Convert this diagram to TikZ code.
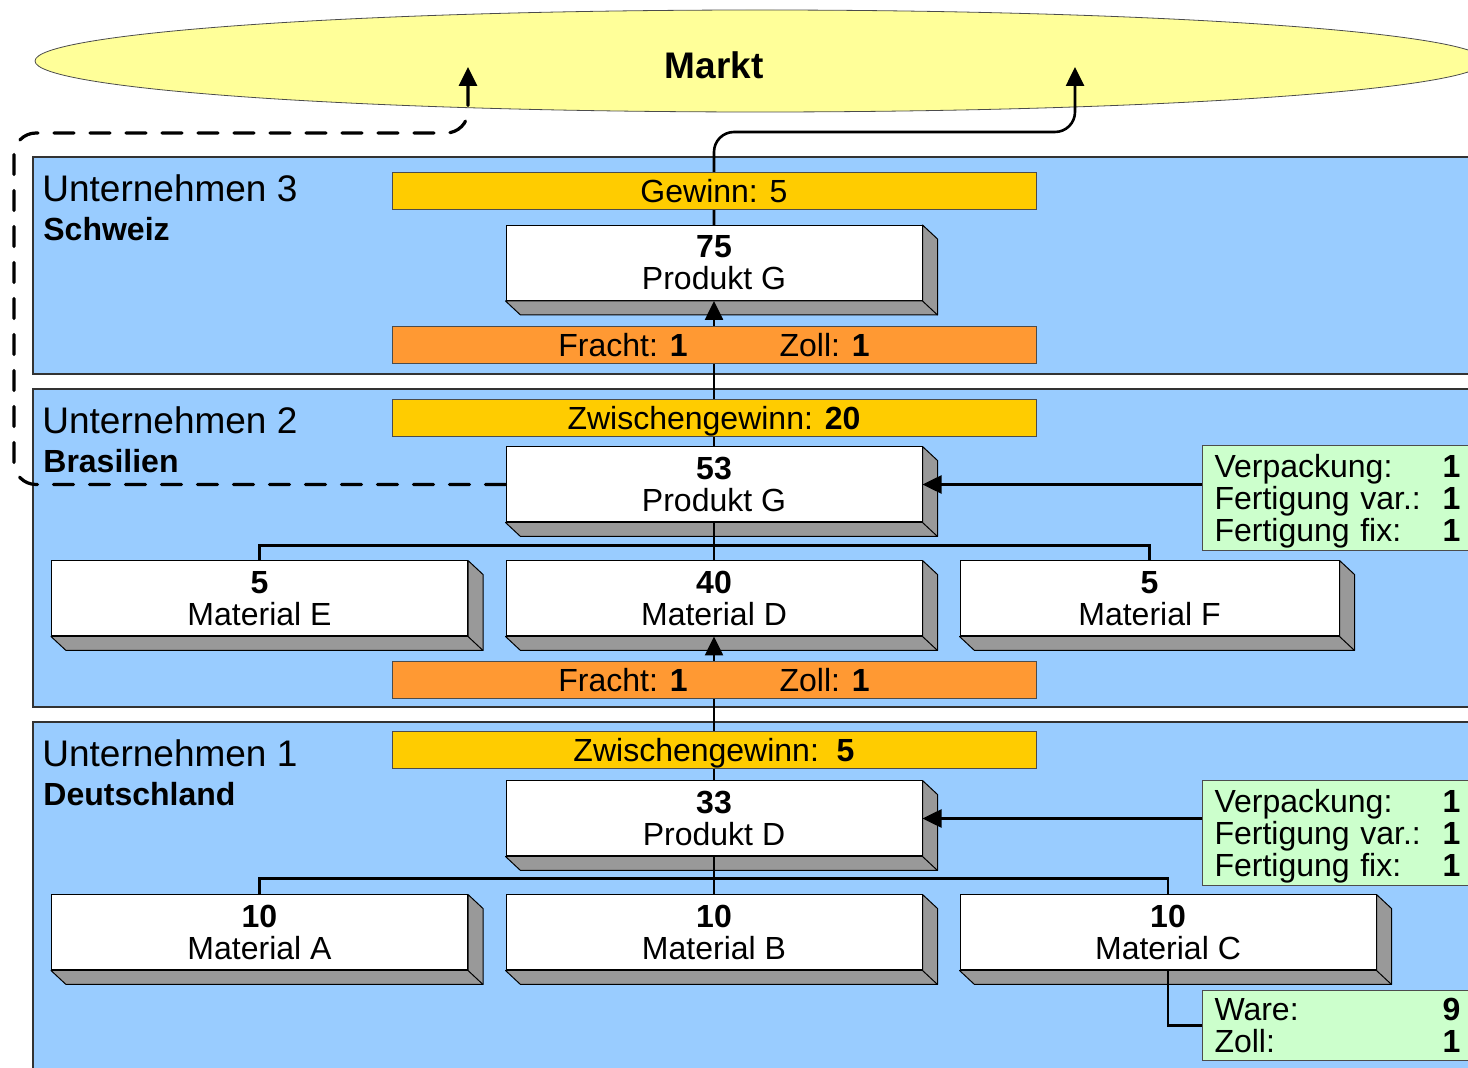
\documentclass[tikz,border=0pt]{standalone}
\usepackage{fontspec}
\setmainfont{Liberation Sans}
\usetikzlibrary{arrows.meta}
\definecolor{panelblue}{HTML}{99CCFF}
\definecolor{marktyellow}{HTML}{FFFF99}
\definecolor{gainyellow}{HTML}{FFCC00}
\definecolor{feeorange}{HTML}{FF9933}
\definecolor{costgreen}{HTML}{CCFFCC}
\definecolor{sidegray}{HTML}{999999}
\begin{document}
\begin{tikzpicture}[x=0.5pt,y=-0.5pt]
			\tikzstyle{panel}= [fill=panelblue,draw=black!80,line width=0.6pt]
			\tikzstyle{ware_box}= [draw,rectangle,fill=white,line width=0.5pt,minimum width=208pt,minimum height=37.5pt,inner sep=0pt,align=center,font=\fontsize{16}{16}\selectfont]
			\tikzstyle{side_face}= [fill=sidegray,draw=black,line width=0.5pt,line join=round]
			\tikzstyle{gain_bar}= [draw=black!70,rectangle,fill=gainyellow,line width=0.5pt,minimum width=322pt,minimum height=18.5pt,inner sep=0pt,text height=11.5pt,text depth=0pt,font=\fontsize{16}{16}\selectfont]
			\tikzstyle{fee_bar}= [gain_bar,fill=feeorange]
			\tikzstyle{cost_box}= [draw=black!70,rectangle,fill=costgreen,line width=0.5pt,anchor=west,text width=123pt,inner xsep=6pt,inner ysep=0pt,align=left,font=\fontsize{16}{16}\selectfont]
			\tikzstyle{firm_label}= [anchor=base west,inner sep=0pt,font=\fontsize{18.5}{18.5}\selectfont]
			\tikzstyle{land_label}= [anchor=base west,inner sep=0pt,font=\bfseries\fontsize{16}{16}\selectfont]
			\tikzstyle{link}= [line width=1.3pt]
			\tikzstyle{link_arrow}= [link,-{Triangle[length=9.5pt,width=9pt]}]
			\tikzstyle{dash_link}= [line width=1.6pt,dash pattern=on 10pt off 8pt,line cap=round,rounded corners=11pt,-{Triangle[length=9.5pt,width=9pt]}]
			\useasboundingbox (0,0) rectangle (1468,1068);
			\clip (0,0) rectangle (1468,1068);
			% market
			\filldraw [fill=marktyellow,draw=black!70,line width=0.4pt] (760,61) ellipse [x radius=362.5pt,y radius=25.5pt];
			\node [font=\bfseries\fontsize{18.5}{18.5}\selectfont] (markt) at (714,65) {Markt};
			\coordinate (mk1) at (468,67);
			\coordinate (mk2) at (1075,67);
			\coordinate (dc) at (14,133);
			% firms
			\draw [panel] (33,157) rectangle (1490,374);
			\draw [panel] (33,389) rectangle (1490,707);
			\draw [panel] (33,722) rectangle (1490,1090);
			\node [firm_label] (u3) at (42,202) {Unternehmen 3};
			\node [land_label] (c3) at (43,241) {Schweiz};
			\node [firm_label] (u2) at (42,434) {Unternehmen 2};
			\node [land_label] (c2) at (43,473) {Brasilien};
			\node [firm_label] (u1) at (42,767) {Unternehmen 1};
			\node [land_label] (c1) at (43,806) {Deutschland};
			% goods
			\node [ware_box] (pg3) at (714,263) {\textbf{75}\\Produkt G};
			\node [ware_box] (pg2) at (714,484.5) {\textbf{53}\\Produkt G};
			\node [ware_box] (me) at (259.5,598.5) {\textbf{5}\\Material E};
			\node [ware_box] (md) at (714,598.5) {\textbf{40}\\Material D};
			\node [ware_box,minimum width=189.5pt] (mf) at (1149.5,598.5) {\textbf{5}\\Material F};
			\node [ware_box] (pd) at (714,818.5) {\textbf{33}\\Produkt D};
			\node [ware_box] (ma) at (259.5,932.5) {\textbf{10}\\Material A};
			\node [ware_box] (mb) at (714,932.5) {\textbf{10}\\Material B};
			\node [ware_box] (mc) at (1168,932.5) {\textbf{10}\\Material C};
			\foreach \b in {pg3,pg2,me,md,mf,pd,ma,mb,mc}{
				\draw [side_face] (\b.north east) -- ++(7.5pt,-7pt) |- ([shift={(7.5pt,-7pt)}]\b.south west) -- (\b.south west) -- (\b.south east) -- cycle;
				\draw [line width=0.5pt] (\b.south east) -- ++(7.5pt,-7pt);
			}
			% costs
			\node [cost_box,minimum height=52.5pt,text height=14.5pt] (k2) at (1202,498.5) {Verpackung:\hfill\textbf{1}\\Fertigung var.:\hfill\textbf{1}\\Fertigung fix:\hfill\textbf{1}};
			\node [cost_box,minimum height=52.5pt,text height=14.5pt] (k1) at (1202,833.5) {Verpackung:\hfill\textbf{1}\\Fertigung var.:\hfill\textbf{1}\\Fertigung fix:\hfill\textbf{1}};
			\node [cost_box,minimum height=34.5pt] (wz) at (1202,1025.5) {Ware:\hfill\textbf{9}\\Zoll:\hfill\textbf{1}};
			% flows
			\draw [link] (me.north) -- ++(0,7.5pt) -| (mf.north);
			\draw [link] (pg2.south) -- (md.north);
			\draw [link] (ma.north) -- ++(0,8pt) -| (mc.north);
			\draw [link] (pd.south) -- (mb.north);
			\draw [link] (mc.south) |- (wz.west);
			\draw [link_arrow] (pd.north) -- (md.south);
			\draw [link_arrow] (pg2.north) -- (pg3.south);
			\draw [link_arrow,rounded corners=10pt] (pg3.north) -- ++(0,46.5pt) -| (mk2);
			\draw [link_arrow] (k2.west |- pg2) -- (pg2.east);
			\draw [link_arrow] (k1.west |- pd) -- (pd.east);
			\draw [dash_link] (pg2.west) -| (dc) -| (mk1);
			% margins
			\node [gain_bar] (g3) at (714,191.5) {Gewinn: 5};
			\node [fee_bar] (f3) at (714,345) {Fracht: \textbf{1}\hspace{46pt}Zoll: \textbf{1}};
			\node [gain_bar] (g2) at (714,418.5) {Zwischengewinn: \textbf{20}};
			\node [fee_bar] (f2) at (714,680) {Fracht: \textbf{1}\hspace{46pt}Zoll: \textbf{1}};
			\node [gain_bar] (g1) at (714,750.5) {Zwischengewinn:~~\textbf{5}};
		\end{tikzpicture}
\end{document}
